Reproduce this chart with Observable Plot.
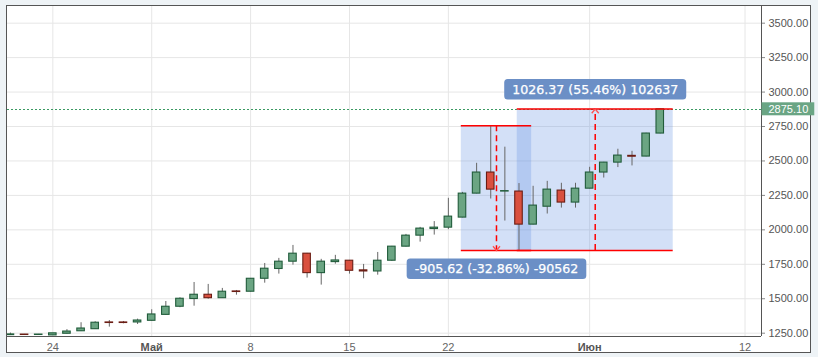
<!DOCTYPE html>
<html><head><meta charset="utf-8">
<script src="https://cdn.jsdelivr.net/npm/d3@7"></script>
<script src="https://cdn.jsdelivr.net/npm/@observablehq/plot@0.6"></script>
<style>
html,body{margin:0;padding:0;background:#eef3f6;}
#wrap{position:relative;width:818px;height:357px;overflow:hidden;}
#frame{position:absolute;left:6px;top:5px;width:803px;height:346px;border:1.5px solid #555;background:#fff;}
#chart{position:absolute;left:0;top:0;}
</style></head><body>
<div id="wrap"><div id="frame"></div><div id="chart"></div></div>
<script>
// ---- data ----
const firstDay = "2017-04-21";
const opens  = [1236,1240,1237,1234,1246,1264,1279,1328,1328,1328,1340,1383,1442,1498,1529,1504,1553,1551,1645,1716,1769,1827,1686,1766,1776,1706,1698,1776,1878,1958,2006,2016,2089,2263,2416,2278,2278,2038,2168,2285,2198,2299,2416,2488,2537,2532,2699];
const highs  = [1251,1241,1241,1248,1276,1326,1333,1342,1335,1352,1420,1480,1507,1618,1604,1575,1560,1647,1756,1793,1887,1829,1786,1815,1778,1749,1836,1880,1967,2018,2060,2229,2272,2483,2756,2600,2336,2316,2352,2338,2338,2454,2490,2585,2570,2701,2876.8];
const lows   = [1233,1236,1236,1233,1244,1262,1277,1294,1318,1313,1337,1380,1435,1446,1497,1502,1526,1549,1613,1679,1744,1650,1599,1751,1679,1645,1671,1771,1876,1911,1962,2001,2087,2261,2224,2064,1850.4,2036,2115,2158,2158,2297,2376,2452,2464,2530,2697];
const closes = [1241,1237,1240,1249,1262,1284,1326,1324,1324,1342,1386,1442,1500,1529,1504,1551,1549,1645,1718,1769,1827,1686,1769,1778,1703,1698,1776,1878,1958,2009,2016,2096,2263,2416,2292,2281,2038,2176,2292,2198,2299,2416,2488,2539,2531,2699,2875.10];

const xTickDates  = ["2017-04-24","2017-05-01","2017-05-08","2017-05-15","2017-05-22","2017-06-01","2017-06-12"];
const xTickLabels = ["24","Май","8","15","22","Июн","12"];
const xTickBold   = [false,true,false,false,false,true,false];
const yTicks = [1250,1500,1750,2000,2250,2500,2750,3000,3250,3500];

// measurement tool annotations
const measureStart  = ["2017-05-22T22:00Z","2017-05-26T21:00Z"];
const measureEnd    = ["2017-05-27T21:30Z","2017-06-06T22:00Z"];
const measureFrom   = [2756, 1850.4];
const measureTo     = [1850.4, 2876.8];
const measureLabels = ["-905.62 (-32.86%) -90562","1026.37 (55.46%) 102637"];

const xDomain = [new Date("2017-04-20T19:00Z"), new Date("2017-06-13T04:00Z")];
const yDomain = [1226, 3621];

// ---- tables ----
const days = d3.utcDay.range(new Date(firstDay), d3.utcDay.offset(new Date(firstDay), opens.length));
const candles = days.map((date,i)=>({date, open:opens[i], high:highs[i], low:lows[i], close:closes[i]}));
const lastClose = closes[closes.length-1];
const HALF = 12*3600*1000;
const measures = measureStart.map((s,i)=>({start:new Date(s), end:new Date(measureEnd[i]), from:measureFrom[i], to:measureTo[i], label:measureLabels[i]}));
const mid = d => new Date((+d.start + +d.end)/2);
const xTicks = xTickDates.map((d,i)=>({date:new Date(d), label:xTickLabels[i], bold:xTickBold[i]}));
const labelOf = new Map(xTicks.map(t=>[+t.date, t.label]));

const GREEN="#6ba583", GREEN_S="#215c3b", RED="#d9503f", RED_S="#6b1d14";

const chevronDown = {draw(ctx, size){const s=Math.sqrt(size/Math.PI); ctx.moveTo(-s,-s*1.2); ctx.lineTo(0,0); ctx.lineTo(s,-s*1.2);}};
const chevronUp   = {draw(ctx, size){const s=Math.sqrt(size/Math.PI); ctx.moveTo(-s, s*1.2); ctx.lineTo(0,0); ctx.lineTo(s, s*1.2);}};

const chart = Plot.plot({
  width: 818, height: 357,
  marginLeft: 7, marginRight: 57, marginTop: 6, marginBottom: 21,
  style: {background:"transparent", fontFamily:"'Liberation Sans', Arial, sans-serif", overflow:"visible"},
  x: {type:"utc", domain:xDomain},
  y: {domain:yDomain},
  color: {type:"identity"},
  marks: [
    Plot.gridY(yTicks, {stroke:"#e6e6e6", strokeOpacity:1}),
    Plot.gridX(xTicks.map(t=>t.date), {stroke:"#e6e6e6", strokeOpacity:1}),
    Plot.rect(measures, {x1:"start", x2:"end", y1:"from", y2:"to", fill:"#5e8de2", fillOpacity:0.27}),
    Plot.ruleY([lastClose], {stroke:"#3a9a62", strokeDasharray:"2,2", strokeWidth:1, shapeRendering:"crispEdges"}),
    Plot.ruleX(candles, {x:"date", y1:"low", y2:"high", stroke:"#666", strokeWidth:1, clip:true}),
    Plot.rect(candles, {
      x1: d=>new Date(+d.date-HALF), x2: d=>new Date(+d.date+HALF),
      y1: d=>Math.min(d.open,d.close), y2: d=>Math.max(d.open,d.close),
      insetLeft:3.3, insetRight:3.3,
      fill: d=>d.close>=d.open?GREEN:RED, stroke: d=>d.close>=d.open?GREEN_S:RED_S,
      strokeWidth:1.1, clip:true
    }),
    // measurement lines
    Plot.ruleY(measures, {y:d=>Math.max(d.from,d.to), x1:"start", x2:"end", stroke:"#ff0000", strokeWidth:1.5}),
    Plot.ruleY(measures, {y:d=>Math.min(d.from,d.to), x1:"start", x2:"end", stroke:"#ff0000", strokeWidth:1.5}),
    Plot.ruleX(measures, {x:mid, y1:"from", y2:"to", stroke:"#ff0000", strokeWidth:1.5, strokeDasharray:"6,4"}),
    Plot.dot(measures.filter(d=>d.to<d.from), {x:mid, y:"to", symbol:chevronDown, r:3.5, fill:"none", stroke:"#ff5050", strokeWidth:1.3}),
    Plot.dot(measures.filter(d=>d.to>d.from), {x:mid, y:"to", symbol:chevronUp, r:3.5, fill:"none", stroke:"#ff5050", strokeWidth:1.3}),
    // axes
    Plot.ruleX([xDomain[1]], {stroke:"#555", strokeWidth:1}),
    Plot.ruleY([yDomain[0]], {stroke:"#555", strokeWidth:1}),
    Plot.axisY({anchor:"right", ticks:yTicks, tickFormat:d=>d.toFixed(2), tickSize:3, tickPadding:4, fontSize:11, fill:"#555", stroke:"#888"}),
    Plot.axisX({ticks:xTicks.filter(t=>!t.bold).map(t=>t.date), tickFormat:d=>labelOf.get(+d), tickSize:0, tickPadding:6.5, fontSize:11, fill:"#666"}),
    Plot.axisX({ticks:xTicks.filter(t=>t.bold).map(t=>t.date), tickFormat:d=>labelOf.get(+d), tickSize:0, tickPadding:6.5, fontSize:11, fill:"#555", fontWeight:"bold"}),
    // labels
    Plot.text(measures.filter(d=>d.to<d.from), {x:mid, y:"to", text:"label", dy:18.7, fill:"white", stroke:"white", strokeWidth:0.25, fontSize:12.6, fontFamily:"'DejaVu Sans', sans-serif"}),
    Plot.text(measures.filter(d=>d.to>d.from), {x:mid, y:"to", text:"label", dy:-19.4, fill:"white", stroke:"white", strokeWidth:0.25, fontSize:12.6, fontFamily:"'DejaVu Sans', sans-serif"}),
    Plot.text([lastClose], {y:d=>d, text:d=>d.toFixed(2), frameAnchor:"right", dx:7, textAnchor:"start", fill:"white", fontSize:11})
  ]
});
document.getElementById("chart").appendChild(chart);

// label backgrounds (sized from the rendered text)
const NS = "http://www.w3.org/2000/svg";
function addBg(match, fill, padL, padR, h, rx){
  Array.from(chart.querySelectorAll("text")).filter(match).forEach(t=>{
    const b = t.getBBox();
    const r = document.createElementNS(NS,"rect");
    r.setAttribute("x", b.x-padL);
    r.setAttribute("y", b.y + b.height/2 - h/2);
    r.setAttribute("width", b.width+padL+padR);
    r.setAttribute("height", h);
    r.setAttribute("rx", rx);
    r.setAttribute("fill", fill);
    r.setAttribute("stroke", "none");
    const tf = t.getAttribute("transform");
    if (tf) r.setAttribute("transform", tf);
    t.parentNode.insertBefore(r, t);
  });
}
const priceText = lastClose.toFixed(2);
addBg(t=>measureLabels.includes(t.textContent), "#6b8fc6", 8, 8, 20.5, 3.5);
addBg(t=>t.textContent===priceText && (t.getAttribute("fill")==="white" || t.parentNode.getAttribute("fill")==="white"), "#6aa584", 7, 6, 13, 0);
</script></body></html>
